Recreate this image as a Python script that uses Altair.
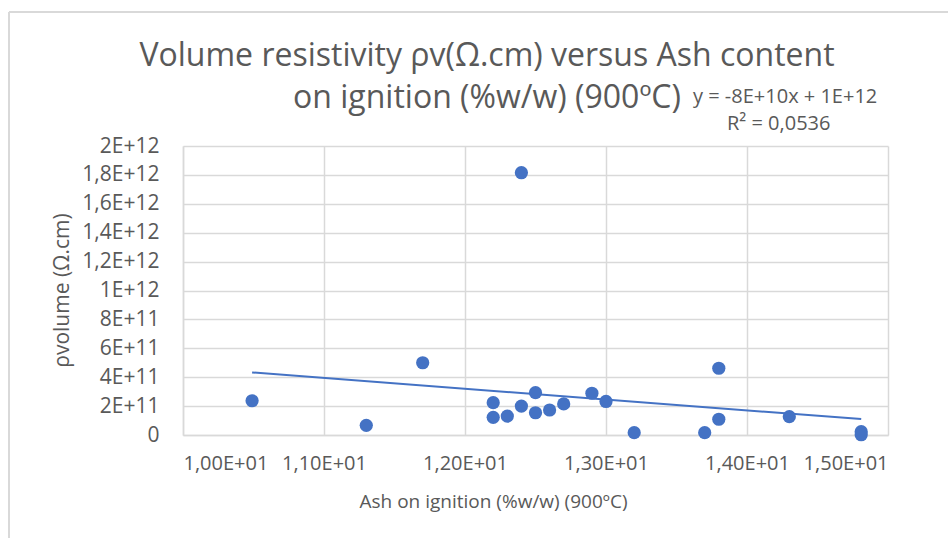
import altair as alt
import pandas as pd

# Ash on ignition (%w/w) at 900 ºC
ash = [10.49, 11.30, 11.70, 12.20, 12.20, 12.30, 12.40, 12.40, 12.50, 12.50, 12.60,
       12.70, 12.90, 13.00, 13.20, 13.70, 13.80, 13.80, 14.30, 14.81, 14.81]
# Volume resistivity (Ω.cm)
rho = [2.37e11, 0.67e11, 5.0e11, 2.24e11, 1.22e11, 1.31e11, 2.0e11, 18.15e11, 2.93e11,
       1.54e11, 1.73e11, 2.15e11, 2.89e11, 2.32e11, 0.16e11, 0.16e11, 4.62e11, 1.09e11,
       1.27e11, 0.23e11, 0.02e11]

x_ticks = [10, 11, 12, 13, 14, 15]
y_ticks = [0, 2e11, 4e11, 6e11, 8e11, 1e12, 1.2e12, 1.4e12, 1.6e12, 1.8e12, 2e12]

title_lines = ["Volume resistivity ρv(Ω.cm) versus Ash content", "on ignition (%w/w) (900ºC)"]
eq_lines = ["y = -8E+10x + 1E+12", "R² = 0,0536"]
x_title = "Ash on ignition (%w/w) (900ºC)"
y_title = "ρvolume (Ω.cm)"

df = pd.DataFrame({"ash": ash, "rho": rho})

BLUE = "#4472C4"
GRID = "#d9d9d9"
TXT = "#595959"
FONT = "Open Sans"

W, H = 705, 289
PL, PT = 183, 146

xenc = alt.X("ash:Q", scale=alt.Scale(domain=[10, 15], nice=False, zero=False),
             axis=alt.Axis(values=x_ticks, title=x_title, grid=True, ticks=False,
                           labelExpr="replace(format(datum.value/10, '.2f'), '.', ',') + 'E+01'",
                           labelPadding=18, labelFontSize=20, titleX=310, titleY=66,
                           titleBaseline="middle", titleAnchor="middle", labelOverlap=False))
yenc = alt.Y("rho:Q", scale=alt.Scale(domain=[0, 2e12], nice=False),
             axis=alt.Axis(values=y_ticks, title=y_title, grid=True, ticks=False,
                           labelExpr="datum.value == 0 ? '0' : replace(upper(format(datum.value, '.1~e')), '.', ',')",
                           labelPadding=24, labelFontSize=21, titleX=-121, titleY=144,
                           titleBaseline="middle", titleAngle=-90, labelOverlap=False,
                           titleFontSize=21))

points = alt.Chart(df).mark_circle(size=175, color=BLUE, opacity=1).encode(x=xenc, y=yenc)

trend = alt.Chart(df).transform_regression("ash", "rho").mark_line(
    color=BLUE, strokeWidth=2).encode(x=xenc, y=yenc)

title_df = pd.DataFrame({"t": title_lines, "px": [304, 304], "py": [-90, -48]})
title = alt.Chart(title_df).mark_text(align="center", baseline="middle", fontSize=32,
                                      font=FONT, color=TXT).encode(
    x=alt.X("px:Q", scale=None), y=alt.Y("py:Q", scale=None), text="t:N")

eq_df = pd.DataFrame({"t": eq_lines, "px": [510, 544], "py": [-49, -22]})
eq = alt.Chart(eq_df).mark_text(align="left", baseline="middle", fontSize=20,
                                font=FONT, color=TXT).encode(
    x=alt.X("px:Q", scale=None), y=alt.Y("py:Q", scale=None), text="t:N")

border_top = alt.Chart(df).mark_rule(color=GRID, strokeWidth=2).encode(
    x=alt.value(9 - PL), x2=alt.value(948 - PL), y=alt.value(12 - PT))
border_left = alt.Chart(df).mark_rule(color=GRID, strokeWidth=2).encode(
    x=alt.value(9 - PL), y=alt.value(12 - PT), y2=alt.value(538 - PT))

chart = alt.layer(border_top, border_left, trend, points, title, eq).properties(
    width=W, height=H,
    background="white",
    autosize=alt.AutoSizeParams(type="none"),
    padding={"left": PL, "top": PT, "right": 948 - PL - W, "bottom": 538 - PT - H},
).configure_view(stroke=None).configure_axis(
    domainColor=GRID, gridColor=GRID, gridWidth=1.5, domainWidth=1.5,
    labelFont=FONT, titleFont=FONT, labelColor=TXT, titleColor=TXT,
    titleFontSize=19, titleFontWeight="normal"
)

chart.save("out.html", embed_options={"renderer": "svg", "actions": False})
